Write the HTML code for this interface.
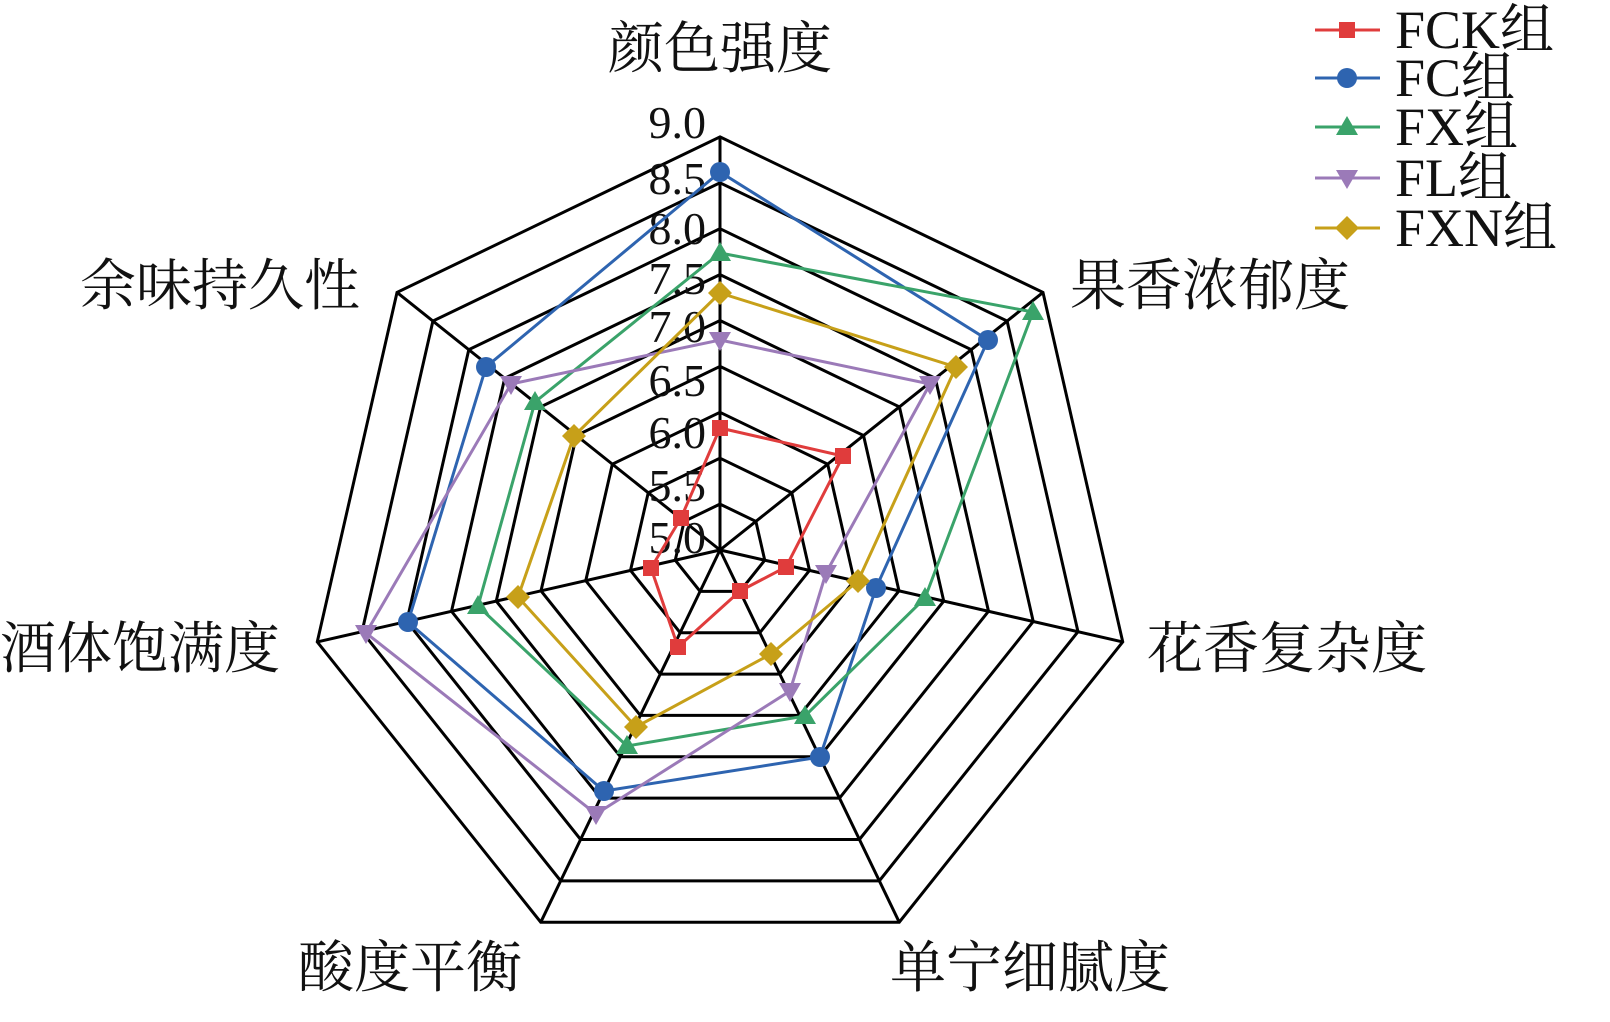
<!DOCTYPE html>
<html><head><meta charset="utf-8"><style>
html,body{margin:0;padding:0;background:#fff;}
svg{display:block;}
text{font-family:"Liberation Serif","Noto Serif CJK SC",serif;fill:#111;}
</style></head><body>
<svg width="1610" height="1022" viewBox="0 0 1610 1022" xmlns="http://www.w3.org/2000/svg">
<g id="grid" fill="none" stroke="#000" stroke-width="3"></g>
<g id="ticks" font-size="46" text-anchor="end"></g>
<g font-size="56" text-anchor="middle">
<text x="720" y="68">颜色强度</text>
<text x="1210" y="305">果香浓郁度</text>
<text x="1287" y="668">花香复杂度</text>
<text x="1030" y="987">单宁细腻度</text>
<text x="410" y="987">酸度平衡</text>
<text x="140" y="668">酒体饱满度</text>
<text x="220" y="305">余味持久性</text>
</g>
<g id="series"></g>
<g id="legend" font-size="54"></g>
<script>
var cx=720,cy=550,R=45.9,ns="http://www.w3.org/2000/svg";
function el(t,a,p){var e=document.createElementNS(ns,t);for(var k in a)e.setAttribute(k,a[k]);p.appendChild(e);return e;}
var g=document.getElementById('grid');
function pt(r,i){var a=i*2*Math.PI/7;return [cx+r*Math.sin(a),cy-r*Math.cos(a)];}
for(var k=1;k<=9;k++){var p=[];for(var i=0;i<7;i++)p.push(pt(k*R,i).join(','));el('polygon',{points:p.join(' ')},g);}
for(var i=0;i<7;i++){var q=pt(9*R,i);el('line',{x1:cx,y1:cy,x2:q[0],y2:q[1]},g);}
var t=document.getElementById('ticks');
var ty=[122,178,228,278,326,380,432,485,537];
for(var k=0;k<9;k++){var v=(9-k*0.5).toFixed(1);var e=el('text',{x:706,y:ty[k]+16},t);e.textContent=v;}
var data=[
['#e03c3c','sq',[[720,428],[843,456],[786,567],[740,591],[678,647],[651,568],[681,518]]],
['#2e64b0','ci',[[720,172],[988,340],[876,588],[820,757],[604,791],[408,622],[486,367]]],
['#3aa36a','tu',[[720,253],[1033,312],[925,598],[805,716],[627,746],[478,606],[535,402]]],
['#9b7ab8','td',[[720,340],[930,384],[826,573],[790,691],[596,814],[366,633],[511,384]]],
['#c7a019','di',[[720,293],[956,367],[858,581],[771,654],[636,727],[518,597],[574,436]]]];
function mk(type,x,y,c,p){
 if(type=='sq')el('rect',{x:x-8,y:y-8,width:16,height:16,fill:c},p);
 else if(type=='ci')el('circle',{cx:x,cy:y,r:10,fill:c},p);
 else if(type=='tu')el('polygon',{points:(x)+','+(y-11)+' '+(x+11)+','+(y+8)+' '+(x-11)+','+(y+8),fill:c},p);
 else if(type=='td')el('polygon',{points:(x)+','+(y+11)+' '+(x+11)+','+(y-8)+' '+(x-11)+','+(y-8),fill:c},p);
 else el('polygon',{points:x+','+(y-12)+' '+(x+12)+','+y+' '+x+','+(y+12)+' '+(x-12)+','+y,fill:c},p);
}
var s=document.getElementById('series');
data.forEach(function(d){el('polygon',{points:d[2].map(function(q){return q.join(',')}).join(' '),fill:'none',stroke:d[0],'stroke-width':3},s);d[2].forEach(function(q){mk(d[1],q[0],q[1],d[0],s);});});
var L=document.getElementById('legend'),names=['FCK组','FC组','FX组','FL组','FXN组'],ys=[30,78,127,178,228];
data.forEach(function(d,i){var y=ys[i];el('line',{x1:1315,y1:y,x2:1380,y2:y,stroke:d[0],'stroke-width':3},L);mk(d[1],1347,y,d[0],L);var e=el('text',{x:1395,y:y+18},L);e.textContent=names[i];});
</script>
</svg>
</body></html>
